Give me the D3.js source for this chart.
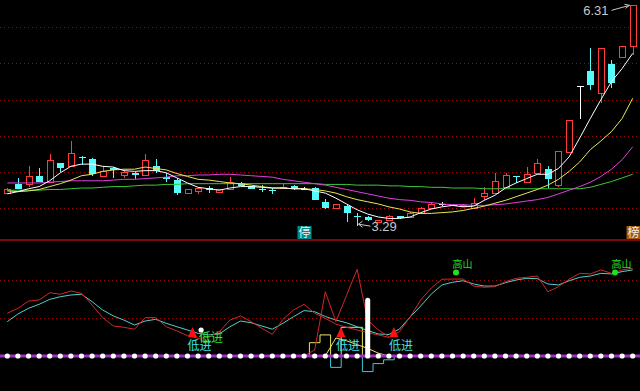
<!DOCTYPE html>
<html>
<head>
<meta charset="utf-8">
<script src="https://cdn.jsdelivr.net/npm/d3@7"></script>
<style>
  html, body { margin: 0; padding: 0; background: #000; }
  svg { display: block; }
</style>
</head>
<body>
<div id="chart"></div>
<script>
// ---- K-line data (60 bars) ----
const openP  = [3.71,3.84,3.84,3.95,3.87,4.13,4.08,4.21,4.18,3.94,4.06,3.96,3.99,3.96,4.08,3.93,3.89,3.71,3.74,3.78,
                3.73,3.77,3.85,3.81,3.77,3.75,3.78,3.81,3.77,3.78,3.59,3.50,3.53,3.39,3.38,3.31,3.34,3.39,3.38,3.43,
                3.50,3.56,3.55,3.53,3.50,3.67,3.71,3.80,3.95,3.87,3.99,4.04,3.82,4.28,5.19,5.39,5.09,5.49,5.59,5.74];
const highP  = [3.78,3.92,4.08,4.06,4.25,4.13,4.43,4.22,4.19,4.08,4.07,4.02,4.00,4.25,4.18,3.99,3.92,3.77,3.79,3.81,
                3.77,3.93,3.86,3.81,3.82,3.78,3.84,3.82,3.79,3.80,3.63,3.56,3.56,3.43,3.39,3.34,3.41,3.40,3.45,3.52,
                3.59,3.59,3.56,3.56,3.64,3.79,3.99,3.99,3.95,4.07,4.18,4.08,4.29,4.72,5.19,5.71,5.71,5.55,5.74,6.31];
const lowP   = [3.70,3.76,3.80,3.86,3.86,4.00,4.07,4.10,3.95,3.93,3.92,3.92,3.91,3.94,3.99,3.86,3.68,3.71,3.70,3.71,
                3.73,3.77,3.81,3.76,3.73,3.70,3.77,3.75,3.75,3.61,3.49,3.50,3.31,3.26,3.33,3.30,3.33,3.35,3.38,3.43,
                3.50,3.53,3.53,3.52,3.49,3.61,3.70,3.78,3.85,3.87,3.99,3.78,3.79,4.28,4.74,5.14,4.95,5.16,5.57,5.62];
const closeP = [3.77,3.77,3.95,3.87,4.17,4.06,4.26,4.20,3.97,4.01,4.03,4.00,3.96,4.17,4.01,3.91,3.71,3.76,3.78,3.75,
                3.76,3.86,3.81,3.76,3.76,3.74,3.79,3.76,3.77,3.62,3.51,3.56,3.44,3.38,3.34,3.34,3.39,3.36,3.43,3.51,
                3.56,3.56,3.54,3.55,3.57,3.71,3.88,3.96,3.94,3.97,4.13,3.91,4.29,4.72,5.19,5.20,5.71,5.23,5.74,6.31];

// moving averages
const ma5  = [3.70,3.73,3.77,3.80,3.88,3.99,4.08,4.11,4.11,4.08,4.07,4.02,4.01,4.02,4.02,3.99,3.92,3.85,3.79,3.77,
              3.75,3.78,3.80,3.80,3.79,3.78,3.78,3.77,3.77,3.74,3.71,3.64,3.56,3.48,3.42,3.38,3.36,3.36,3.38,3.44,
              3.49,3.52,3.54,3.52,3.53,3.61,3.68,3.78,3.85,3.91,3.97,3.97,4.05,4.21,4.47,4.74,5.00,5.25,5.43,5.64];
const ma10 = [3.74,3.73,3.74,3.76,3.80,3.84,3.89,3.95,3.97,4.01,4.03,4.04,4.04,4.07,4.05,4.03,3.98,3.94,3.90,3.89,
              3.87,3.85,3.84,3.82,3.80,3.78,3.78,3.77,3.77,3.76,3.74,3.71,3.66,3.62,3.59,3.56,3.52,3.49,3.45,3.43,
              3.43,3.44,3.45,3.47,3.50,3.53,3.57,3.61,3.66,3.71,3.76,3.82,3.90,4.01,4.14,4.31,4.43,4.56,4.74,5.02];
const ma20 = [3.85,3.85,3.85,3.85,3.86,3.87,3.88,3.88,3.88,3.88,3.89,3.90,3.90,3.91,3.92,3.93,3.95,3.95,3.96,3.96,
              3.97,3.97,3.96,3.95,3.94,3.93,3.90,3.88,3.86,3.84,3.82,3.79,3.76,3.73,3.70,3.67,3.64,3.62,3.61,3.59,
              3.58,3.56,3.55,3.55,3.54,3.54,3.55,3.56,3.58,3.60,3.62,3.65,3.70,3.75,3.80,3.86,3.94,4.04,4.17,4.35];
const ma60 = [3.75,3.75,3.75,3.75,3.76,3.76,3.77,3.78,3.78,3.79,3.80,3.80,3.81,3.82,3.82,3.83,3.83,3.84,3.84,3.84,
              3.84,3.84,3.84,3.84,3.84,3.84,3.84,3.84,3.84,3.84,3.83,3.83,3.83,3.82,3.82,3.82,3.81,3.81,3.80,3.80,
              3.79,3.79,3.78,3.78,3.78,3.77,3.77,3.77,3.77,3.77,3.77,3.77,3.77,3.77,3.77,3.79,3.83,3.87,3.92,3.97];

const priceGrid = [3.5, 4.0, 4.5, 5.0, 5.5, 6.0];
const extremeLabels = ["6.31", "3.29"];
const tagBars = [28, 59];
const tagTexts = ["停", "榜"];

// ---- lower indicator ----
const redLine  = [22.5,25.1,28.9,29.5,33.3,32.5,34.2,33.0,26.8,20.2,15.8,15.1,14.1,20.2,20.2,15.4,13.2,10.7,9.3,9.8,
                  12.8,18.9,21.1,18.1,14.6,11.4,19.3,24.2,27.2,22.5,19.8,16.8,15.1,13.7,12.3,11.1,9.8,12.8,20.5,29.5,
                  35.8,40.4,40.5,40.5,36.8,36.2,36.5,39.1,40.9,41.4,42.1,33.8,36.5,40.4,43.5,43.2,45.3,43.5,45.3,46.2];
const cyanLine = [18.1,22.1,25.1,27.2,29.8,31.2,32.1,32.5,28.6,24.2,21.1,18.9,16.3,18.4,19.3,17.2,15.4,13.7,11.9,11.1,
                  11.6,15.4,18.4,17.5,15.8,14.1,17.2,20.7,23.9,23.3,20.8,18.9,17.5,15.4,13.4,11.6,11.3,14.2,20.5,26.3,
                  32.6,37.4,38.8,39.6,37.9,36.8,36.8,38.6,40.0,40.9,40.7,37.9,37.4,39.6,41.4,42.1,43.5,43.2,44.4,45.3];
// short-lived series, index -> value
const spikeIdx  = [28,29,30,31,32,33,34,35,36];
const spikeVal  = [0,3.2,33.8,18.0,31.9,45.6,18.9,13.7,10.2];
const stepUpIdx = [28,29,30,31,32,33,34];
const stepUpVal = [0,7.0,11.1,0,15.1,15.1,0];
const stepDnIdx = [30,31,32,33,34,35,36,37];
const stepDnVal = [0,-6.0,0,0,-8.2,-4.0,-2.0,0];
const yelIdx    = [30,31,32,33,34,35,36];
const yelVal    = [0,9.5,8.0,6.0,4.0,1.5,0];
const barIdx    = [34];
const barVal    = [30.7];

const buyBars   = [17, 31, 36];
const buy2Bars  = [18];
const peakBars  = [42, 57];

// ---- layout ----
const width = 640, height = 391;
const svg = d3.select("#chart").append("svg")
  .attr("width", width).attr("height", height)
  .style("background", "#000");

const x = d3.scaleBand().domain(d3.range(openP.length)).range([2, 638]);
const cx = i => Math.round(x(i) + x.bandwidth() / 2) + 0.5;
const xc = i => x(i) + x.bandwidth() / 2;

const yMain = d3.scaleLinear().domain([3.5, 6.0]).range([208.3, 27.3]);
const ySub = d3.scaleLinear().domain([0, 40]).range([356, 280]);

const gridColor = "#9a0a0a";

// grid main
svg.append("g").selectAll("line").data(priceGrid).join("line")
  .attr("x1", 0).attr("x2", width)
  .attr("y1", d => Math.round(yMain(d)) + 0.5).attr("y2", d => Math.round(yMain(d)) + 0.5)
  .attr("stroke", gridColor).attr("stroke-dasharray", "1,3");

// grid sub
svg.append("g").selectAll("line").data([20, 40]).join("line")
  .attr("x1", 0).attr("x2", width)
  .attr("y1", d => Math.round(ySub(d)) + 0.5).attr("y2", d => Math.round(ySub(d)) + 0.5)
  .attr("stroke", gridColor).attr("stroke-dasharray", "1,3");

// panel divider
svg.append("rect").attr("x", 0).attr("y", 239).attr("width", width).attr("height", 2).attr("fill", "#7a0a0a");

// ---- candles ----
const UP = "#ff3c3c", DOWN = "#54fcfc";
const candles = svg.append("g");
d3.range(openP.length).forEach(i => {
  const o = openP[i], c = closeP[i], h = highP[i], l = lowP[i];
  const X = cx(i);
  const top = Math.round(yMain(Math.max(o, c)));
  const bot = Math.round(yMain(Math.min(o, c)));
  const yh = Math.round(yMain(h)), yl = Math.round(yMain(l));
  if (c > o) {
    candles.append("line").attr("x1", X).attr("x2", X).attr("y1", yh).attr("y2", top).attr("stroke", UP);
    candles.append("line").attr("x1", X).attr("x2", X).attr("y1", bot + 1).attr("y2", yl).attr("stroke", UP);
    candles.append("rect").attr("x", X - 3).attr("y", top + 0.5).attr("width", 6).attr("height", Math.max(bot - top, 1))
      .attr("fill", "#000").attr("stroke", UP);
  } else if (c < o) {
    candles.append("line").attr("x1", X).attr("x2", X).attr("y1", yh).attr("y2", yl).attr("stroke", DOWN);
    candles.append("rect").attr("x", X - 3.5).attr("y", top).attr("width", 7).attr("height", Math.max(bot - top, 1))
      .attr("fill", DOWN);
  } else {
    candles.append("line").attr("x1", X).attr("x2", X).attr("y1", yh).attr("y2", yl).attr("stroke", "#fff");
    candles.append("line").attr("x1", X - 3.5).attr("x2", X + 3.5).attr("y1", top + 0.5).attr("y2", top + 0.5).attr("stroke", "#fff");
  }
});

// ---- MAs ----
const maLine = d3.line().x((d, i) => xc(i)).y(d => yMain(d));
[[ma60, "#3cc83c"], [ma20, "#e040e0"], [ma10, "#e8e850"], [ma5, "#ffffff"]].forEach(([arr, col]) => {
  svg.append("path").attr("d", maLine(arr)).attr("fill", "none").attr("stroke", col).attr("stroke-width", 1);
});

// ---- extreme labels ----
const labelColor = "#c8c8c8";
const hiX = cx(59) - 4, hiY = yMain(highP[59]) + 0.5;
svg.append("line").attr("x1", hiX - 18).attr("y1", hiY + 5).attr("x2", hiX).attr("y2", hiY)
  .attr("stroke", labelColor);
svg.append("path").attr("d", `M${hiX},${hiY} l-5,-1 M${hiX},${hiY} l-4,3`).attr("stroke", labelColor).attr("fill", "none");
svg.append("text").attr("x", hiX - 21).attr("y", hiY + 10).attr("text-anchor", "end")
  .attr("font-family", "Liberation Sans, Arial, sans-serif").attr("font-size", 13)
  .attr("fill", labelColor).text(extremeLabels[0]);

const loX = cx(33) + 1, loY = yMain(lowP[33]) - 1.5;
svg.append("line").attr("x1", loX).attr("y1", loY).attr("x2", loX + 12).attr("y2", loY + 2)
  .attr("stroke", labelColor);
svg.append("path").attr("d", `M${loX},${loY} l4,-3 M${loX},${loY} l4,3`).attr("stroke", labelColor).attr("fill", "none");
svg.append("text").attr("x", loX + 13).attr("y", loY + 7)
  .attr("font-family", "Liberation Sans, Arial, sans-serif").attr("font-size", 13)
  .attr("fill", labelColor).text(extremeLabels[1]);

// ---- tag boxes ----
tagBars.forEach((b, k) => {
  const X = cx(b);
  svg.append("rect").attr("x", X - 7).attr("y", 226).attr("width", 14).attr("height", 13)
    .attr("fill", k === 0 ? "#008a8a" : "#a05a10");
  svg.append("text").attr("x", X).attr("y", 237).attr("text-anchor", "middle")
    .attr("font-family", "Noto Sans CJK SC").attr("font-size", 12).attr("fill", "#f0f0f0")
    .text(tagTexts[k]);
});

// ---- lower panel ----
const sub = svg.append("g");
const stepLine = (idx) => d3.line().x((d, k) => xc(idx[k])).y(d => ySub(d)).curve(d3.curveStep);
const plainLine = (idx) => d3.line().x((d, k) => xc(idx[k])).y(d => ySub(d));

sub.append("path").attr("d", stepLine(stepDnIdx)(stepDnVal)).attr("fill", "none").attr("stroke", "#40c8e0");
sub.append("path").attr("d", stepLine(stepUpIdx)(stepUpVal)).attr("fill", "none").attr("stroke", "#e8e860");
sub.append("path").attr("d", plainLine(yelIdx)(yelVal)).attr("fill", "none").attr("stroke", "#e8e860");

const full = d3.line().x((d, i) => xc(i)).y(d => ySub(d));
sub.append("path").attr("d", full(cyanLine)).attr("fill", "none").attr("stroke", "#50d0d0");
sub.append("path").attr("d", full(redLine)).attr("fill", "none").attr("stroke", "#d02828");
sub.append("path").attr("d", plainLine(spikeIdx)(spikeVal)).attr("fill", "none").attr("stroke", "#d02828");

// baseline
sub.append("line").attr("x1", 0).attr("x2", width).attr("y1", ySub(0)).attr("y2", ySub(0))
  .attr("stroke", "#a030c0").attr("stroke-width", 3);

// white bar
barIdx.forEach((b, k) => {
  sub.append("rect").attr("x", xc(b) - 2.5).attr("y", ySub(barVal[k])).attr("width", 5)
    .attr("height", ySub(0) - ySub(barVal[k])).attr("rx", 2.5).attr("fill", "#fff");
});

// dots on baseline
sub.append("g").selectAll("circle").data(d3.range(openP.length)).join("circle")
  .attr("cx", i => xc(i)).attr("cy", ySub(0)).attr("r", 2.6).attr("fill", "#fff");

// buy signals
const cjk = "Noto Sans CJK SC";
buy2Bars.forEach(b => {
  sub.append("text").attr("x", xc(b) + 1).attr("y", 342).attr("font-family", cjk).attr("font-size", 12)
    .attr("fill", "#30e030").text("低进");
  sub.append("circle").attr("cx", xc(b) + 3).attr("cy", 330).attr("r", 2.6).attr("fill", "#fff");
});
buyBars.forEach(b => {
  const X = xc(b) + 5;
  const base = ySub(10), tip = base - 10;
  sub.append("path").attr("d", `M${X},${tip} L${X + 4.5},${base} L${X - 4.5},${base} Z`).attr("fill", "#ff1010");
  sub.append("text").attr("x", xc(b)).attr("y", 350).attr("font-family", cjk).attr("font-size", 12)
    .attr("fill", "#40e0e0").text("低进");
});

// peaks
peakBars.forEach(b => {
  const yy = ySub(44);
  sub.append("circle").attr("cx", xc(b) + 3.5).attr("cy", yy).attr("r", 3).attr("fill", "#20e020");
  sub.append("text").attr("x", xc(b)).attr("y", yy - 4.5).attr("font-family", cjk).attr("font-size", 10)
    .attr("fill", "#20e020").text("高山");
});
</script>
</body>
</html>
